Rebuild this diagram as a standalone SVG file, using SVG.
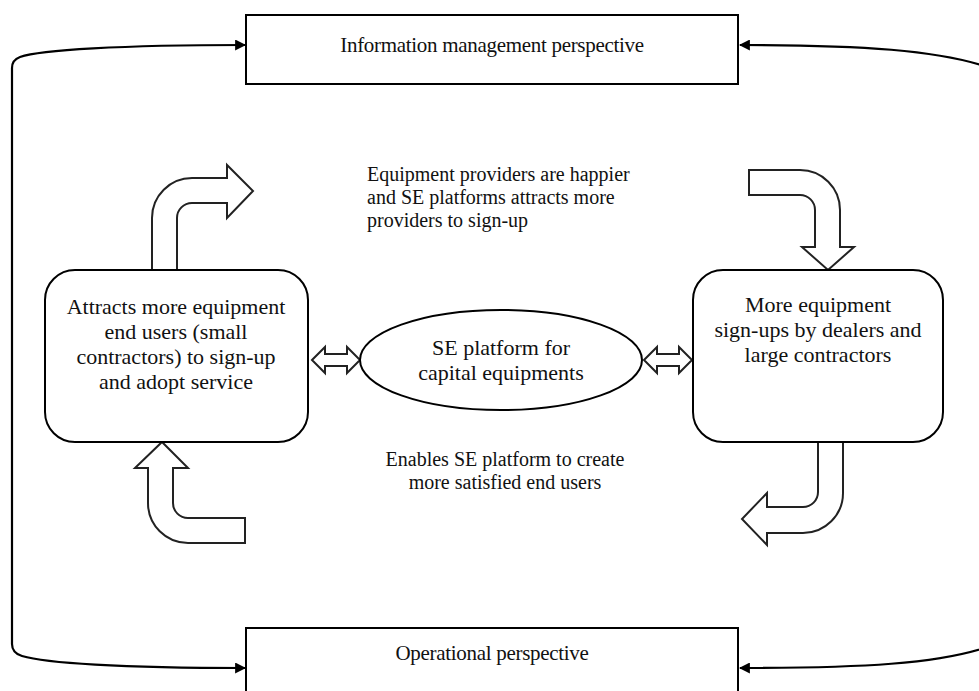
<svg xmlns="http://www.w3.org/2000/svg" width="979" height="691" viewBox="0 0 979 691">
<defs>
<style>
.box{fill:#fff;stroke:#000;stroke-width:2}
.shape{fill:#fff;stroke:#222;stroke-width:2;stroke-linejoin:miter}
.conn{fill:none;stroke:#000;stroke-width:2.2}
text{font-family:"Liberation Serif","Times New Roman",serif;fill:#111}
.t22{font-size:22px}
.t21{font-size:21px}
.t20{font-size:20px}
</style>
<marker id="ah" viewBox="0 0 10 10" refX="9" refY="5" markerWidth="5" markerHeight="5" orient="auto-start-reverse" markerUnits="strokeWidth">
<path d="M0,0 L10,5 L0,10 Z" fill="#000"/>
</marker>
</defs>
<rect width="979" height="691" fill="#fff"/>

<g id="connectors">
<path class="conn" d="M245,45 C120,45 40,50 20,57 Q12,60 12,68 L12,644 Q12,653 22,656 C45,663 120,668 245,668" marker-start="url(#ah)" marker-end="url(#ah)"/>
<path class="conn" d="M740,45 C860,45 940,50 990,68 L990,646 C940,664 860,668 740,668" marker-start="url(#ah)" marker-end="url(#ah)"/>
<path id="arrow-left-up" class="shape" d="M152,270 L152,218 A40,40 0 0 1 192,178 L227,178 L227,165 L253,191 L227,218 L227,203 L192,203 A15,15 0 0 0 177,218 L177,270"/>
<path id="arrow-right-down" class="shape" d="M749,170 L800,170 A40,40 0 0 1 840,210 L840,247 L854,247 L828,270 L802,247 L815,247 L815,210 A15,15 0 0 0 800,195 L749,195 Z"/>
<path id="arrow-right-left" class="shape" d="M843,442 L843,493 A40,40 0 0 1 803,533 L767,533 L767,545 L742,519 L767,493 L767,507 L803,507 A15,15 0 0 0 818,492 L818,442"/>
<path id="arrow-left-bottom" class="shape" d="M245,543 L188,543 A40,40 0 0 1 148,503 L148,468 L135,468 L162,442 L188,468 L173,468 L173,503 A15,15 0 0 0 188,518 L245,518 Z"/>
<path id="dbl-left" class="shape" d="M312,360 L325,347 L325,354 L347,354 L347,347 L360,360 L347,373 L347,366 L325,366 L325,373 Z"/>
<path id="dbl-right" class="shape" d="M644,360 L657,347 L657,354 L679,354 L679,347 L692,360 L679,373 L679,366 L657,366 L657,373 Z"/>
</g>

<g id="node-info">
<rect class="box" x="246" y="15" width="492" height="69"/>
<text class="t21" x="492" y="52" text-anchor="middle" letter-spacing="-0.3">Information management perspective</text>
</g>

<g id="node-operational">
<rect class="box" x="246" y="628" width="492" height="80"/>
<text class="t21" x="492" y="660" text-anchor="middle" letter-spacing="-0.3">Operational perspective</text>
</g>

<g id="label-top">
<text class="t20"><tspan x="367" y="181">Equipment providers are happier</tspan><tspan x="367" y="204">and SE platforms attracts more</tspan><tspan x="367" y="227">providers to sign-up</tspan></text>
</g>

<g id="label-bottom">
<text class="t20" text-anchor="middle"><tspan x="505" y="466">Enables SE platform to create</tspan><tspan x="505" y="489">more satisfied end users</tspan></text>
</g>

<g id="node-left">
<rect class="box" x="45" y="270" width="263" height="172" rx="30"/>
<text class="t22" text-anchor="middle"><tspan x="176" y="314">Attracts more equipment</tspan><tspan x="176" y="339">end users (small</tspan><tspan x="176" y="364">contractors) to sign-up</tspan><tspan x="176" y="389">and adopt service</tspan></text>
</g>

<g id="node-center">
<ellipse class="box" cx="501" cy="360" rx="141" ry="50"/>
<text class="t22" text-anchor="middle"><tspan x="501" y="355">SE platform for</tspan><tspan x="501" y="380">capital equipments</tspan></text>
</g>

<g id="node-right">
<rect class="box" x="693" y="270" width="250" height="172" rx="30"/>
<text class="t22" text-anchor="middle"><tspan x="818" y="312">More equipment</tspan><tspan x="818" y="337">sign-ups by dealers and</tspan><tspan x="818" y="362">large contractors</tspan></text>
</g>
</svg>
